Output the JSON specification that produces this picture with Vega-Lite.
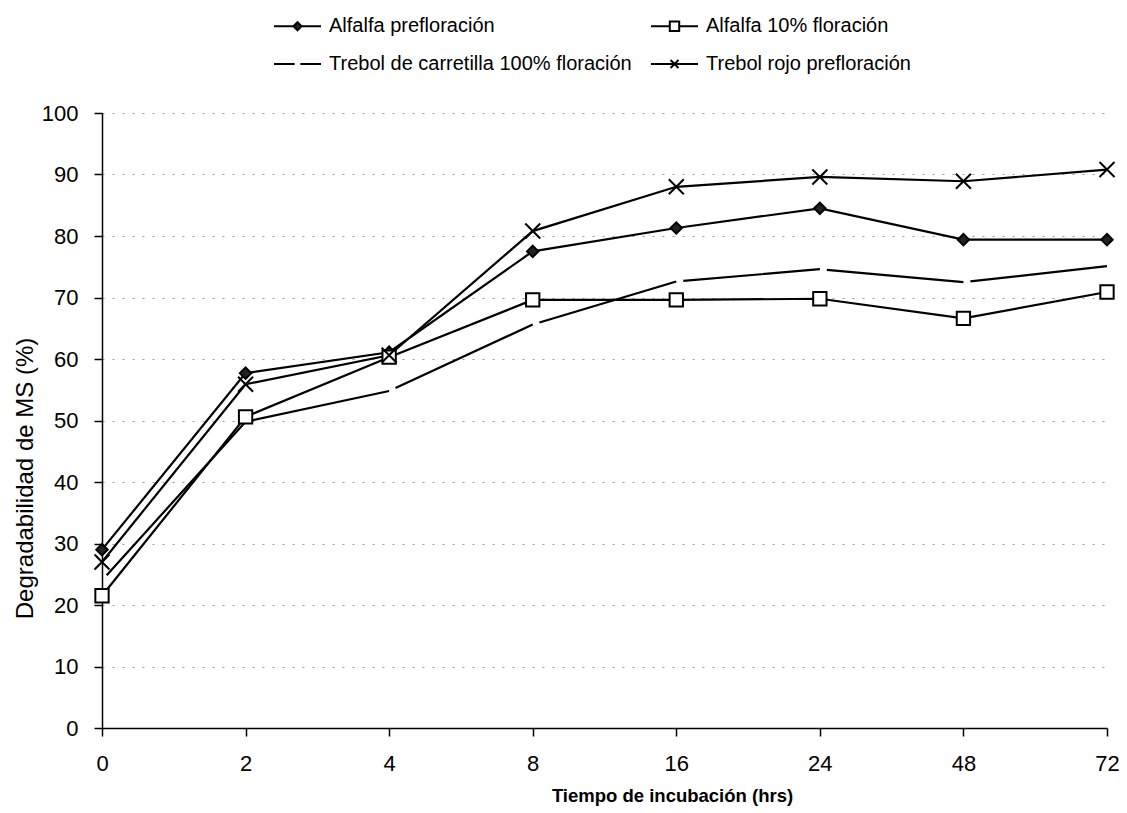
{
  "$schema": "https://vega.github.io/schema/vega-lite/v6.json",
  "width": 1005,
  "height": 615,
  "autosize": {"type": "none"},
  "padding": {"left": 102, "top": 113, "right": 20, "bottom": 85},
  "background": "white",
  "config": {
    "font": "Liberation Sans",
    "view": {"stroke": null},
    "axis": {"labelFont": "Liberation Sans", "titleFont": "Liberation Sans", "labelColor": "black", "titleColor": "black", "domainColor": "black", "tickColor": "black", "domainWidth": 1.5, "tickWidth": 1.5}
  },
  "data": {
    "values": [
      {"series": "Alfalfa prefloración", "hrs": 0, "pct": 29.0},
      {"series": "Alfalfa prefloración", "hrs": 2, "pct": 57.7},
      {"series": "Alfalfa prefloración", "hrs": 4, "pct": 61.1},
      {"series": "Alfalfa prefloración", "hrs": 8, "pct": 77.5},
      {"series": "Alfalfa prefloración", "hrs": 16, "pct": 81.3},
      {"series": "Alfalfa prefloración", "hrs": 24, "pct": 84.5},
      {"series": "Alfalfa prefloración", "hrs": 48, "pct": 79.4},
      {"series": "Alfalfa prefloración", "hrs": 72, "pct": 79.4},
      {"series": "Alfalfa 10% floración", "hrs": 0, "pct": 21.5},
      {"series": "Alfalfa 10% floración", "hrs": 2, "pct": 50.6},
      {"series": "Alfalfa 10% floración", "hrs": 4, "pct": 60.3},
      {"series": "Alfalfa 10% floración", "hrs": 8, "pct": 69.6},
      {"series": "Alfalfa 10% floración", "hrs": 16, "pct": 69.6},
      {"series": "Alfalfa 10% floración", "hrs": 24, "pct": 69.8},
      {"series": "Alfalfa 10% floración", "hrs": 48, "pct": 66.6},
      {"series": "Alfalfa 10% floración", "hrs": 72, "pct": 70.9},
      {"series": "Trebol de carretilla 100% floración", "hrs": 0, "pct": 24.0},
      {"series": "Trebol de carretilla 100% floración", "hrs": 2, "pct": 49.8},
      {"series": "Trebol de carretilla 100% floración", "hrs": 4, "pct": 54.8},
      {"series": "Trebol de carretilla 100% floración", "hrs": 8, "pct": 65.6},
      {"series": "Trebol de carretilla 100% floración", "hrs": 16, "pct": 72.6},
      {"series": "Trebol de carretilla 100% floración", "hrs": 24, "pct": 74.6},
      {"series": "Trebol de carretilla 100% floración", "hrs": 48, "pct": 72.5},
      {"series": "Trebol de carretilla 100% floración", "hrs": 72, "pct": 75.1},
      {"series": "Trebol rojo prefloración", "hrs": 0, "pct": 27.0},
      {"series": "Trebol rojo prefloración", "hrs": 2, "pct": 55.9},
      {"series": "Trebol rojo prefloración", "hrs": 4, "pct": 60.6},
      {"series": "Trebol rojo prefloración", "hrs": 8, "pct": 80.8},
      {"series": "Trebol rojo prefloración", "hrs": 16, "pct": 88.0},
      {"series": "Trebol rojo prefloración", "hrs": 24, "pct": 89.6},
      {"series": "Trebol rojo prefloración", "hrs": 48, "pct": 88.9},
      {"series": "Trebol rojo prefloración", "hrs": 72, "pct": 90.8}
    ]
  },
  "encoding": {
    "x": {
      "field": "hrs", "type": "ordinal",
      "scale": {"domain": [0, 2, 4, 8, 16, 24, 48, 72], "type": "point", "padding": 0},
      "axis": {"title": "Tiempo de incubación (hrs)", "labelAngle": 0, "labelFontSize": 22, "titleFontSize": 18.5, "titleFontWeight": "bold", "tickSize": 8, "labelPadding": 17, "titlePadding": 12, "titleX": 570, "grid": false}
    },
    "y": {
      "field": "pct", "type": "quantitative",
      "scale": {"domain": [0, 100], "nice": false, "zero": true},
      "axis": {"title": "Degradabilidad de MS (%)", "values": [0, 10, 20, 30, 40, 50, 60, 70, 80, 90, 100], "labelFontSize": 22, "titleFontSize": 24, "titleFontWeight": "normal", "tickSize": 8, "labelPadding": 16, "titlePadding": 4, "titleY": 365, "grid": true, "gridDash": [2, 8], "gridColor": "#9a9a9a", "gridWidth": 1}
    }
  },
  "layer": [
    {
      "transform": [{"filter": "datum.series !== 'Trebol de carretilla 100% floración'"}],
      "mark": {"type": "line", "color": "black", "strokeWidth": 2.2},
      "encoding": {"detail": {"field": "series", "type": "nominal"}}
    },
    {
      "transform": [
        {"filter": "datum.series === 'Trebol de carretilla 100% floración'"},
        {"window": [{"op": "lead", "field": "hrs", "as": "hrs2"}, {"op": "lead", "field": "pct", "as": "pct2"}], "sort": [{"field": "hrs", "order": "ascending"}]},
        {"filter": "datum.hrs2 != null"}
      ],
      "mark": {"type": "rule", "color": "black", "strokeWidth": 2.2, "strokeDash": [0, 7, 3000, 0], "strokeCap": "butt"},
      "encoding": {"x2": {"field": "hrs2"}, "y2": {"field": "pct2"}}
    },
    {
      "transform": [{"filter": "datum.series !== 'Trebol de carretilla 100% floración'"}],
      "mark": {"type": "point", "stroke": "black", "strokeWidth": 2, "opacity": 1},
      "encoding": {
        "shape": {"field": "series", "type": "nominal", "legend": null,
          "scale": {"domain": ["Alfalfa prefloración", "Alfalfa 10% floración", "Trebol rojo prefloración"], "range": ["diamond", "square", "M-1,-1L1,1M-1,1L1,-1"]}},
        "fill": {"field": "series", "type": "nominal", "legend": null,
          "scale": {"domain": ["Alfalfa prefloración", "Alfalfa 10% floración", "Trebol rojo prefloración"], "range": ["#222222", "white", "transparent"]}},
        "size": {"field": "series", "type": "nominal", "legend": null,
          "scale": {"domain": ["Alfalfa prefloración", "Alfalfa 10% floración", "Trebol rojo prefloración"], "range": [130, 225, 150]}}
      }
    },
    {
      "transform": [{"filter": "datum.hrs < 0"}],
      "mark": {"type": "point", "strokeWidth": 2, "opacity": 1},
      "encoding": {
        "shape": {"field": "series", "type": "nominal",
          "scale": {"domain": ["Alfalfa prefloración", "Alfalfa 10% floración", "Trebol de carretilla 100% floración", "Trebol rojo prefloración"],
            "range": ["M-1,0H-0.17L0,-0.17L0.17,0L0,0.17L-0.17,0ZM0.17,0H1", "M-1,0H-0.2M0.2,0H1M-0.2,-0.2H0.2V0.2H-0.2Z", "M-1,0H-0.12M0.12,0H1", "M-1,0H1M-0.17,-0.17L0.17,0.17M-0.17,0.17L0.17,-0.17"]},
          "legend": {"title": null, "orient": "none", "legendX": 171, "legendY": -111.5, "columns": 2, "columnPadding": 15, "rowPadding": 3, "symbolSize": 2209, "symbolStrokeWidth": 2, "symbolStrokeColor": "black", "labelFontSize": 20, "labelLimit": 500, "labelColor": "black", "labelFont": "Liberation Sans", "labelOffset": 7, "symbolOpacity": 1, "direction": "horizontal"}},
        "fill": {"field": "series", "type": "nominal",
          "scale": {"domain": ["Alfalfa prefloración", "Alfalfa 10% floración", "Trebol de carretilla 100% floración", "Trebol rojo prefloración"], "range": ["#222222", "white", "white", "white"]}},
        "stroke": {"field": "series", "type": "nominal",
          "scale": {"domain": ["Alfalfa prefloración", "Alfalfa 10% floración", "Trebol de carretilla 100% floración", "Trebol rojo prefloración"], "range": ["black", "black", "black", "black"]}}
      }
    }
  ],
  "resolve": {"scale": {"shape": "independent", "fill": "independent", "stroke": "independent"}}
}
